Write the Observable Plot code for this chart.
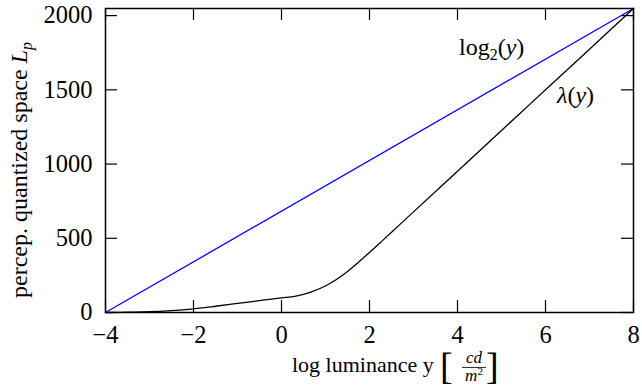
<!DOCTYPE html>
<html><head><meta charset="utf-8">
<script src="https://cdn.jsdelivr.net/npm/d3@7"></script>
<script src="https://cdn.jsdelivr.net/npm/@observablehq/plot@0.6"></script>
</head><body style="margin:0;background:#fff"><div id="chart"></div>
<script>
// log luminance (x) and perceptually quantized value λ(y)
const lumX    = [-4, -3.5, -3, -2.5, -2, -1.5, -1, -0.5, 0, 0.3, 0.65, 1.05, 1.45, 1.8, 2.05, 2.3, 2.65, 3, 4, 5, 6, 7, 8];
const lambdaY = [0, 2, 5, 13, 25, 42, 61, 80, 99, 108, 135, 187, 265, 352, 418, 486, 582, 678, 952, 1226, 1500, 1774, 2048];
// log2 mapping
const log2X = [-4, 8];
const log2Y = [0, 2048];
const xTicks = [-4, -2, 0, 2, 4, 6, 8];
const yTicks = [0, 500, 1000, 1500, 2000];

const W = 642, H = 388, mL = 105, mR = 9, mT = 8, mB = 76;
const innerW = W - mL - mR, innerH = H - mT - mB, tick = 12;
const F = "Liberation Serif";

const lam = lumX.map((x, i) => ({x, y: lambdaY[i]}));
const lg = log2X.map((x, i) => ({x, y: log2Y[i]}));
const fmt = d => d < 0 ? "\u2212" + (-d) : String(d);

const plot = Plot.plot({
  width: W, height: H,
  marginLeft: mL, marginRight: mR, marginTop: mT, marginBottom: mB,
  style: {fontFamily: F, fontSize: "24px", color: "black", background: "white"},
  x: {domain: [-4, 8]},
  y: {domain: [0, 2048]},
  marks: [
    Plot.tickX(xTicks, {x: d => d, insetTop: innerH - tick, stroke: "black", strokeWidth: 1.2}),
    Plot.tickX(xTicks, {x: d => d, insetBottom: innerH - tick, stroke: "black", strokeWidth: 1.2}),
    Plot.tickY(yTicks, {y: d => d, insetRight: innerW - tick, stroke: "black", strokeWidth: 1.2}),
    Plot.tickY(yTicks, {y: d => d, insetLeft: innerW - tick, stroke: "black", strokeWidth: 1.2}),
    Plot.line(lg, {x: "x", y: "y", stroke: "#0000ff", strokeWidth: 1.3}),
    Plot.line(lam, {x: "x", y: "y", stroke: "black", strokeWidth: 1.3, curve: "monotone-x"}),
    Plot.axisX({ticks: xTicks, tickFormat: fmt, tickSize: 0, tickPadding: 13, label: null, fontSize: 24.5, fontFamily: F}),
    Plot.axisY({ticks: yTicks, tickFormat: fmt, tickSize: 0, tickPadding: 13, label: null, fontSize: 24.5, fontFamily: F}),
    Plot.frame({stroke: "black", strokeWidth: 1.5})
  ]
});

const svg = d3.select(plot);

// curve labels
const t1 = svg.append("text").attr("x", 459).attr("y", 55).attr("text-anchor", "start").attr("font-size", 24).attr("fill", "black");
t1.append("tspan").text("log");
t1.append("tspan").attr("font-size", 16).attr("dy", 5).text("2");
t1.append("tspan").attr("dy", -5).text("(");
t1.append("tspan").attr("font-style", "italic").text("y");
t1.append("tspan").text(")");

const t2 = svg.append("text").attr("x", 557).attr("y", 103).attr("text-anchor", "start").attr("font-size", 24).attr("fill", "black");
t2.append("tspan").attr("font-style", "italic").text("λ");
t2.append("tspan").text("(");
t2.append("tspan").attr("font-style", "italic").text("y");
t2.append("tspan").text(")");

// y axis label
const yl = svg.append("text").attr("transform", "translate(27,170) rotate(-90)").attr("text-anchor", "middle")
  .attr("font-size", 24).attr("fill", "black");
yl.append("tspan").text("percep. quantized space ");
yl.append("tspan").attr("font-style", "italic").text("L");
yl.append("tspan").attr("font-style", "italic").attr("font-size", 16).attr("dy", 5).text("p");

// x axis label
svg.append("text").attr("x", 292).attr("y", 372).attr("text-anchor", "start").attr("font-size", 22).attr("fill", "black").text("log luminance y");
svg.append("text").attr("x", 440).attr("y", 379).attr("text-anchor", "start").attr("font-size", 38).attr("font-weight", 300).attr("fill", "black").text("[");
svg.append("text").attr("x", 486).attr("y", 379).attr("text-anchor", "start").attr("font-size", 38).attr("font-weight", 300).attr("fill", "black").text("]");
svg.append("text").attr("x", 474).attr("y", 363).attr("text-anchor", "middle").attr("font-size", 17).attr("font-style", "italic").attr("fill", "black").text("cd");
svg.append("line").attr("x1", 462).attr("x2", 486).attr("y1", 367.5).attr("y2", 367.5).attr("stroke", "black").attr("stroke-width", 0.8);
const fm = svg.append("text").attr("x", 474).attr("y", 381).attr("text-anchor", "middle").attr("font-size", 17).attr("fill", "black");
fm.append("tspan").attr("font-style", "italic").text("m");
fm.append("tspan").attr("font-size", 11).attr("dy", -6).text("2");

svg.selectAll("text").attr("font-family", F);

document.getElementById("chart").appendChild(plot);
</script>
</body></html>
